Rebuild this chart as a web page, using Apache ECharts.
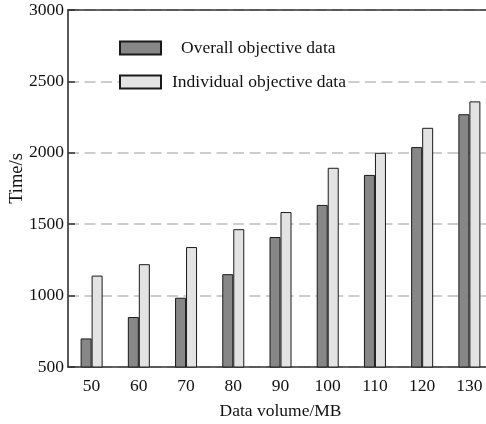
<!DOCTYPE html>
<html>
<head>
<meta charset="utf-8">
<script src="https://cdn.jsdelivr.net/npm/echarts@6/dist/echarts.min.js"></script>
<style>
  html, body { margin: 0; padding: 0; background: #fff; }
  #chart { width: 486px; height: 424px; }
</style>
</head>
<body>
<div id="chart"></div>
<script>
// Data volume (MB) on the x axis
const categories = ['50', '60', '70', '80', '90', '100', '110', '120', '130'];
// Processing time (s) for each approach
const overallData = [700, 850, 985, 1150, 1410, 1635, 1845, 2040, 2270];
const individualData = [1140, 1220, 1340, 1465, 1585, 1895, 2000, 2175, 2360];
const seriesNames = ['Overall objective data', 'Individual objective data'];
const yTicks = { min: 500, max: 3000, step: 500 };

const FONT = '"Liberation Serif", "Times New Roman", serif';
const chart = echarts.init(document.getElementById('chart'), null, { renderer: 'canvas' });

const legendText = (padLeft) => ({
  fontFamily: FONT, fontSize: 17.5, color: '#111',
  backgroundColor: '#fff', padding: [0, 2, 0, padLeft]
});

chart.setOption({
  animation: false,
  backgroundColor: '#fff',
  textStyle: { fontFamily: FONT },
  grid: { left: 68, right: -7, top: 10, bottom: 57, containLabel: false, outerBoundsMode: 'none' },
  legend: [
    {
      data: [seriesNames[0]], left: 119, top: 39, orient: 'vertical', padding: 0,
      itemWidth: 41, itemHeight: 13, icon: 'rect',
      textStyle: legendText(15), selectedMode: false
    },
    {
      data: [seriesNames[1]], left: 119, top: 73, orient: 'vertical', padding: 0,
      itemWidth: 41, itemHeight: 13, icon: 'rect',
      textStyle: legendText(6), selectedMode: false
    }
  ],
  xAxis: [
    {
      type: 'category', data: categories, position: 'bottom',
      axisLine: { lineStyle: { color: '#333', width: 1.5 } },
      axisTick: { show: false },
      axisLabel: { color: '#111', fontSize: 17.5, fontFamily: FONT, margin: 10 },
      name: 'Data volume/MB', nameLocation: 'middle', nameGap: 35, nameMoveOverlap: false,
      nameTextStyle: { color: '#111', fontSize: 17.5, fontFamily: FONT }
    },
    {
      type: 'category', data: categories, position: 'top',
      axisLine: { lineStyle: { color: '#333', width: 1.5 } },
      axisTick: { show: false }, axisLabel: { show: false }
    }
  ],
  yAxis: {
    type: 'value', min: yTicks.min, max: yTicks.max, interval: yTicks.step,
    axisLine: { show: true, lineStyle: { color: '#222', width: 1.5 } },
    axisTick: { show: true, inside: true, length: 7, lineStyle: { color: '#333', width: 1.5 } },
    axisLabel: {
      color: '#111', fontSize: 17.5, fontFamily: FONT, margin: 4,
      formatter: (v) => String(v)
    },
    splitLine: {
      show: true,
      lineStyle: { color: '#bdbdbd', width: 1.5, type: [11, 5.5] }
    },
    name: 'Time/s', nameLocation: 'middle', nameGap: 41, nameMoveOverlap: false,
    nameTextStyle: { color: '#111', fontSize: 18.5, fontFamily: FONT, padding: [0, 0, 0, 20] }
  },
  series: [
    {
      name: seriesNames[0], type: 'bar', data: overallData,
      barWidth: 11, barGap: '0%',
      itemStyle: { color: '#878787', borderColor: '#1a1a1a', borderWidth: 1 }
    },
    {
      name: seriesNames[1], type: 'bar', data: individualData,
      barWidth: 11, barGap: '0%',
      itemStyle: { color: '#e3e3e3', borderColor: '#1a1a1a', borderWidth: 1 }
    }
  ]
});
</script>
</body>
</html>
